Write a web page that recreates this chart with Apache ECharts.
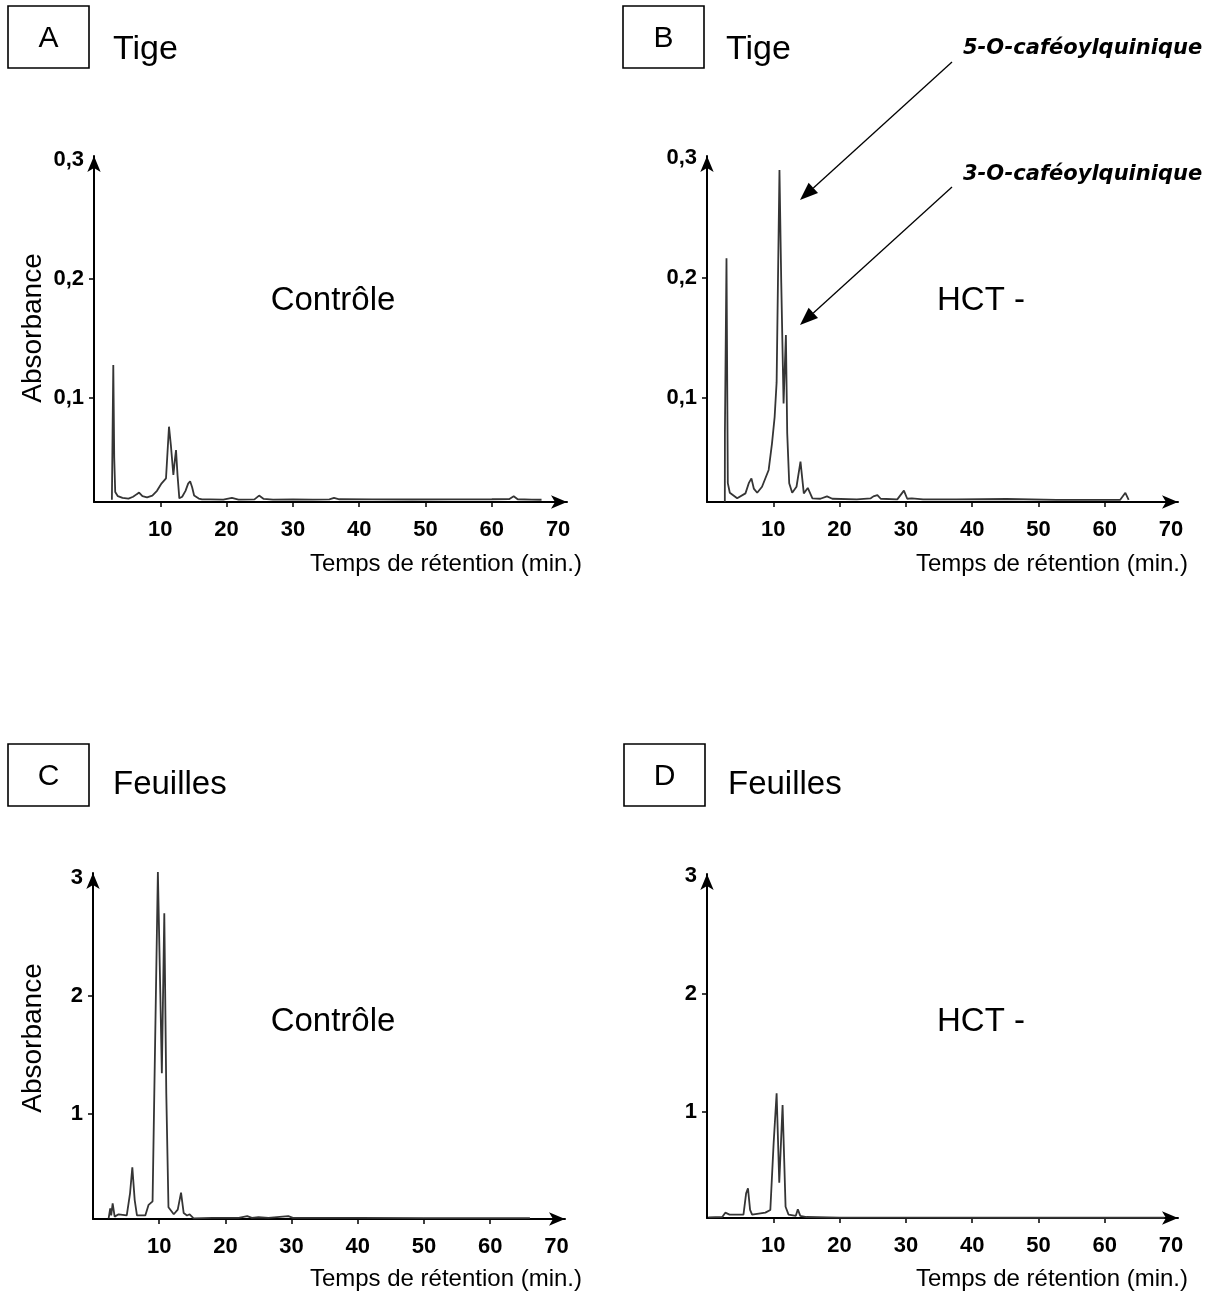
<!DOCTYPE html>
<html>
<head>
<meta charset="utf-8">
<script src="https://cdn.jsdelivr.net/npm/echarts@6/dist/echarts.min.js"></script>
<style>
  html, body { margin: 0; padding: 0; background: #fff; }
  #chart { width: 1217px; height: 1298px; }
</style>
</head>
<body>
<div id="chart"></div>
<script>
// A : tige, contrôle
const timeA = [2.7, 2.8, 2.91, 3.05, 3.2, 3.6, 4.3, 5.2, 5.9, 6.4, 6.8, 7.3, 8.0, 8.8, 9.5, 10.2, 10.86, 11.31, 11.6, 11.97, 12.2, 12.37, 12.6, 12.87, 13.3, 13.8, 14.2, 14.5, 14.8, 15.1, 15.4, 15.8, 16.3, 17.5, 19.5, 20.8, 21.8, 24.2, 24.9, 25.6, 27, 30, 33, 35.5, 36.2, 37, 42, 48, 54, 60, 62.6, 63.3, 63.9, 66, 67.5];
const absA = [0.0145, 0.07, 0.1277, 0.05, 0.021, 0.0175, 0.016, 0.0155, 0.017, 0.019, 0.0205, 0.0175, 0.0165, 0.018, 0.022, 0.0283, 0.0325, 0.0759, 0.06, 0.0353, 0.048, 0.0563, 0.035, 0.0157, 0.017, 0.022, 0.028, 0.030, 0.025, 0.018, 0.0175, 0.0155, 0.0148, 0.0148, 0.0146, 0.016, 0.0146, 0.0148, 0.018, 0.0152, 0.0146, 0.0148, 0.0146, 0.0148, 0.016, 0.0149, 0.0148, 0.0147, 0.0148, 0.0149, 0.015, 0.0175, 0.0149, 0.0146, 0.0145];

// B : tige, HCT -
const timeB = [2.69, 2.7, 2.94, 3.14, 3.44, 4.55, 5.8, 6.3, 6.7, 7.06, 7.57, 8.3, 9.3, 9.8, 10.2, 10.5, 10.7, 10.93, 11.2, 11.55, 11.9, 12.1, 12.4, 12.85, 13.5, 14.1, 14.6, 15.2, 15.9, 17.1, 18.1, 18.9, 22.6, 24.7, 25.1, 25.7, 26.2, 28.7, 29.7, 30.2, 30.9, 32.6, 37.6, 45.2, 52.7, 62.3, 63.1, 63.6];
const absB = [0.0136, 0.0706, 0.2164, 0.029, 0.021, 0.0164, 0.0205, 0.029, 0.033, 0.0245, 0.021, 0.026, 0.040, 0.062, 0.084, 0.113, 0.196, 0.29, 0.196, 0.0955, 0.1525, 0.0705, 0.029, 0.021, 0.026, 0.047, 0.0205, 0.025, 0.0164, 0.016, 0.018, 0.016, 0.0155, 0.0164, 0.018, 0.019, 0.016, 0.0155, 0.0228, 0.016, 0.0164, 0.0155, 0.0155, 0.0158, 0.015, 0.015, 0.021, 0.015];

// C : feuilles, contrôle
const timeC = [2.36, 2.6, 2.75, 2.97, 3.27, 3.87, 5.1, 5.6, 5.94, 6.3, 6.64, 7.9, 8.4, 9.0, 9.26, 9.8, 10.17, 10.4, 10.77, 11.07, 11.4, 12.2, 12.8, 13.3, 13.7, 14.2, 14.6, 15.2, 18, 22, 23.3, 24, 25, 26.5, 29.5, 30.2, 40, 50, 60, 66];
const absC = [0.116, 0.20, 0.14, 0.243, 0.13, 0.15, 0.14, 0.33, 0.548, 0.27, 0.14, 0.14, 0.23, 0.26, 1.175, 3.05, 2.02, 1.345, 2.70, 1.175, 0.21, 0.15, 0.19, 0.333, 0.16, 0.14, 0.15, 0.116, 0.12, 0.12, 0.135, 0.12, 0.125, 0.12, 0.135, 0.12, 0.12, 0.118, 0.118, 0.117];

// D : feuilles, HCT -
const timeD = [0.2, 2.3, 2.76, 3.4, 5.5, 5.9, 6.18, 6.5, 6.8, 8.8, 9.55, 10.05, 10.5, 10.9, 11.4, 11.85, 12.3, 13.4, 13.7, 14.07, 15, 20, 30, 45, 60, 69];
const absD = [0.107, 0.11, 0.147, 0.13, 0.13, 0.31, 0.353, 0.17, 0.13, 0.147, 0.17, 0.735, 1.158, 0.40, 1.06, 0.197, 0.13, 0.12, 0.175, 0.12, 0.11, 0.105, 0.105, 0.104, 0.104, 0.104];

const xLabels = [10, 20, 30, 40, 50, 60, 70];
const xTicks = [10, 20, 30, 40, 50, 60];
const yLabelsTige = [0.1, 0.2, 0.3];
const yTicksTige = [0.1, 0.2];
const yLabelsFeuilles = [1, 2, 3];
const yTicksFeuilles = [1, 2];

const FONT = '"Liberation Sans", Arial, Helvetica, sans-serif';

// position des 4 graphes (px)
const grids = [
  { left: 94,  top: 156, width: 473, height: 346 },
  { left: 707, top: 156, width: 471, height: 346 },
  { left: 93,  top: 873, width: 472, height: 346 },
  { left: 707, top: 874, width: 471, height: 344 }
];
const xMax = [71.34, 71.04, 71.3, 71.04];
const yRange = [[0.0126, 0.3034], [0.0133, 0.3017], [0.110, 3.042], [0.1017, 3.017]];

const axisArrow = { onZero: false, symbol: ['none', 'arrow'], symbolSize: [10, 16],
                    lineStyle: { color: '#000', width: 2 } };

function xAxisFor(i) {
  return {
    type: 'value', gridIndex: i, min: 0, max: xMax[i],
    axisLine: axisArrow,
    axisTick: { show: true, customValues: xTicks, length: 5, lineStyle: { color: '#000', width: 1.5 } },
    axisLabel: { customValues: xLabels, margin: 17, color: '#000', fontSize: 22, fontWeight: 'bold', fontFamily: FONT },
    splitLine: { show: false }
  };
}
function yAxisFor(i, labels, ticks) {
  return {
    type: 'value', gridIndex: i, min: yRange[i][0], max: yRange[i][1],
    axisLine: axisArrow,
    axisTick: { show: true, customValues: ticks, length: 5, lineStyle: { color: '#000', width: 1.5 } },
    axisLabel: { customValues: labels, margin: 10, color: '#000', fontSize: 22, fontWeight: 'bold', fontFamily: FONT,
                 formatter: v => String(v).replace('.', ',') },
    splitLine: { show: false }
  };
}
function serie(i, t, a) {
  return {
    type: 'line', xAxisIndex: i, yAxisIndex: i, data: t.map((x, k) => [x, a[k]]),
    showSymbol: false, symbol: 'none', clip: false, silent: true,
    lineStyle: { color: '#353535', width: 1.8 }
  };
}

function txt(x, y, text, size, extra) {
  return {
    type: 'text', x: x, y: y,
    style: Object.assign({ text: text, fontSize: size, fontFamily: FONT, fill: '#000',
                           align: 'left', textAlign: 'left', verticalAlign: 'middle', textVerticalAlign: 'middle' },
                         extra || {})
  };
}
function box(x, y, letter) {
  return [
    { type: 'rect', shape: { x: x, y: y, width: 81, height: 62 }, style: { fill: 'none', stroke: '#000', lineWidth: 1.6 } },
    txt(x + 40.5, y + 33, letter, 30, { align: 'center', textAlign: 'center' })
  ];
}
function arrow(x1, y1, x2, y2) {
  const dx = x2 - x1, dy = y2 - y1, len = Math.sqrt(dx * dx + dy * dy);
  const ux = dx / len, uy = dy / len, L = 18, W = 7;
  const bx = x2 - ux * L, by = y2 - uy * L;
  return [
    { type: 'line', shape: { x1: x1, y1: y1, x2: bx, y2: by }, style: { stroke: '#000', lineWidth: 1.3 } },
    { type: 'polygon', shape: { points: [[x2, y2], [bx - uy * W, by + ux * W], [bx + uy * W, by - ux * W]] },
      style: { fill: '#000' } }
  ];
}

function absorb(y) {
  const t = txt(33, y, 'Absorbance', 28, { align: 'center', textAlign: 'center' });
  t.rotation = Math.PI / 2;
  return t;
}
const ANNOT = { fontWeight: 'bold', fontStyle: 'italic', fontFamily: '"DejaVu Sans", Verdana, sans-serif' };
const graphics = [].concat(
  box(8, 6, 'A'), [txt(113, 50, 'Tige', 34)],
  box(623, 6, 'B'), [txt(726, 50, 'Tige', 34)],
  box(8, 744, 'C'), [txt(113, 785, 'Feuilles', 33)],
  box(624, 744, 'D'), [txt(728, 785, 'Feuilles', 33)],
  [txt(333, 301, 'Contrôle', 33, { align: 'center', textAlign: 'center' })],
  [txt(937, 301, 'HCT -', 33)],
  [txt(333, 1022, 'Contrôle', 33, { align: 'center', textAlign: 'center' })],
  [txt(937, 1022, 'HCT -', 33)],
  [absorb(328), absorb(1038)],
  [txt(582, 564, 'Temps de rétention (min.)', 24, { align: 'right', textAlign: 'right' })],
  [txt(1188, 564, 'Temps de rétention (min.)', 24, { align: 'right', textAlign: 'right' })],
  [txt(582, 1279, 'Temps de rétention (min.)', 24, { align: 'right', textAlign: 'right' })],
  [txt(1188, 1279, 'Temps de rétention (min.)', 24, { align: 'right', textAlign: 'right' })],
  [txt(963, 49, '5-O-caféoylquinique', 21, ANNOT)],
  [txt(963, 175, '3-O-caféoylquinique', 21, ANNOT)],
  arrow(952, 62, 800, 200),
  arrow(952, 187, 800, 325)
);

const chart = echarts.init(document.getElementById('chart'), null, { renderer: 'canvas' });
chart.setOption({
  animation: false,
  backgroundColor: '#fff',
  grid: grids.map(g => Object.assign({ containLabel: false, outerBoundsMode: 'none' }, g)),
  xAxis: [0, 1, 2, 3].map(i => xAxisFor(i)),
  yAxis: [
    yAxisFor(0, yLabelsTige, yTicksTige),
    yAxisFor(1, yLabelsTige, yTicksTige),
    yAxisFor(2, yLabelsFeuilles, yTicksFeuilles),
    yAxisFor(3, yLabelsFeuilles, yTicksFeuilles)
  ],
  series: [serie(0, timeA, absA), serie(1, timeB, absB), serie(2, timeC, absC), serie(3, timeD, absD)],
  graphic: { elements: graphics }
});
</script>
</body>
</html>
